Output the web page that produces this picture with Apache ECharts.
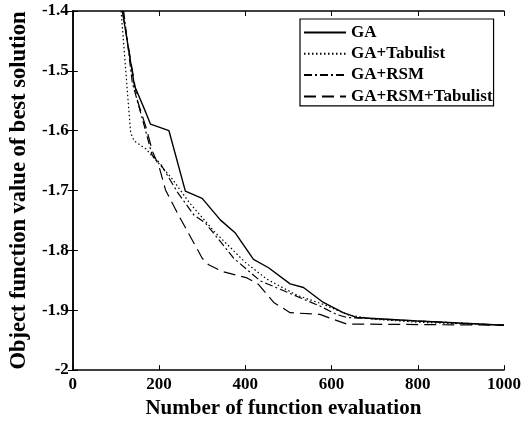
<!DOCTYPE html>
<html>
<head>
<meta charset="utf-8">
<script src="https://cdn.jsdelivr.net/npm/echarts@6/dist/echarts.min.js"></script>
<style>html,body{margin:0;padding:0;background:#fff}#c{width:532px;height:424px}</style>
</head>
<body>
<div id="c"></div>
<script>
var seriesNames = ['GA', 'GA+Tabulist', 'GA+RSM', 'GA+RSM+Tabulist'];
var xTicks = [0, 200, 400, 600, 800, 1000];
var yTicks = [-2, -1.9, -1.8, -1.7, -1.6, -1.5, -1.4];

var gaX = [115, 143, 169, 180, 223, 261, 300, 342, 377, 419, 454, 504, 535, 581, 627, 658, 800, 1000];
var gaY = [-1.40, -1.525, -1.569, -1.589, -1.600, -1.701, -1.713, -1.749, -1.771, -1.815, -1.829, -1.856, -1.862, -1.887, -1.904, -1.912, -1.918, -1.925];

var tabX = [112, 125, 134, 142, 169, 196, 230, 270, 330, 400, 450, 520, 580, 640, 700, 800, 1000];
var tabY = [-1.40, -1.52, -1.603, -1.617, -1.630, -1.652, -1.680, -1.720, -1.770, -1.820, -1.848, -1.875, -1.890, -1.908, -1.915, -1.920, -1.925];

var rsmX = [118, 138, 165, 184, 203, 219, 242, 281, 307, 342, 373, 412, 435, 481, 527, 573, 612, 635, 800, 1000];
var rsmY = [-1.40, -1.52, -1.59, -1.641, -1.655, -1.674, -1.702, -1.741, -1.754, -1.785, -1.813, -1.837, -1.851, -1.865, -1.879, -1.893, -1.907, -1.912, -1.918, -1.925];

var rtX = [115, 150, 170, 185, 200, 215, 245, 281, 300, 315, 346, 404, 431, 466, 504, 573, 635, 1000];
var rtY = [-1.40, -1.55, -1.595, -1.635, -1.660, -1.699, -1.741, -1.788, -1.813, -1.824, -1.835, -1.846, -1.857, -1.887, -1.904, -1.907, -1.923, -1.925];

function pairs(xs, ys) { return xs.map(function (x, i) { return [x, ys[i]]; }); }

var FONT = '"Liberation Serif", "DejaVu Serif", serif';
var chart = echarts.init(document.getElementById('c'), null, {renderer: 'canvas'});
var styles = [
  {type: 'solid', width: 1.4},
  {type: [1.5, 2.5], width: 1.2},
  {type: [8, 3, 2, 3], width: 1.2},
  {type: [12, 6], width: 1.2}
];
var datas = [pairs(gaX, gaY), pairs(tabX, tabY), pairs(rsmX, rsmY), pairs(rtX, rtY)];

var axisCommon = {
  axisLine: {show: true, lineStyle: {color: '#000', width: 1.5}},
  axisTick: {show: true, inside: true, length: 5, lineStyle: {color: '#000'}},
  splitLine: {show: false}
};

chart.setOption({
  animation: false,
  backgroundColor: '#fff',
  grid: {left: 72, right: 28, top: 11, bottom: 51},
  legend: {
    orient: 'vertical',
    left: 300, top: 19,
    padding: [5, 1, 1, 3],
    borderColor: '#000', borderWidth: 1.2,
    backgroundColor: '#fff',
    itemWidth: 42, itemHeight: 14, itemGap: 4.3,
    itemStyle: {opacity: 0},
    textStyle: {fontFamily: FONT, fontSize: 17, fontWeight: 'bold', color: '#000', lineHeight: 17},
    data: seriesNames
  },
  xAxis: [
    Object.assign({
      type: 'value', min: 0, max: 1000, interval: 200,
      name: 'Number of function evaluation', nameLocation: 'middle', nameGap: 26,
      nameTextStyle: {fontFamily: FONT, fontSize: 21, fontWeight: 'bold', color: '#000', padding: [0, 10, 0, 0]},
      axisLabel: {fontFamily: FONT, fontSize: 17, fontWeight: 'bold', color: '#000', margin: 6,
        formatter: function (v) { return String(v); }}
    }, axisCommon),
    Object.assign({
      type: 'value', min: 0, max: 1000, interval: 200, position: 'top',
      axisLabel: {show: false}
    }, axisCommon)
  ],
  yAxis: [
    Object.assign({
      type: 'value', min: -2, max: -1.4, interval: 0.1,
      name: 'Object function value of best solution', nameLocation: 'middle', nameGap: 39,
      nameTextStyle: {fontFamily: FONT, fontSize: 22.5, fontWeight: 'bold', color: '#000'},
      axisLabel: {fontFamily: FONT, fontSize: 17, fontWeight: 'bold', color: '#000', margin: 4,
        formatter: function (v) { return String(parseFloat(v.toFixed(1))); }}
    }, axisCommon),
    Object.assign({
      type: 'value', min: -2, max: -1.4, interval: 0.1, position: 'right',
      axisLabel: {show: false}
    }, axisCommon)
  ],
  series: seriesNames.map(function (n, i) {
    return {
      name: n, type: 'line', data: datas[i], showSymbol: false, symbol: 'none',
      clip: true, silent: true,
      lineStyle: {color: '#000', width: styles[i].width, type: styles[i].type},
      itemStyle: {color: '#000'}
    };
  })
});
</script>
</body>
</html>
